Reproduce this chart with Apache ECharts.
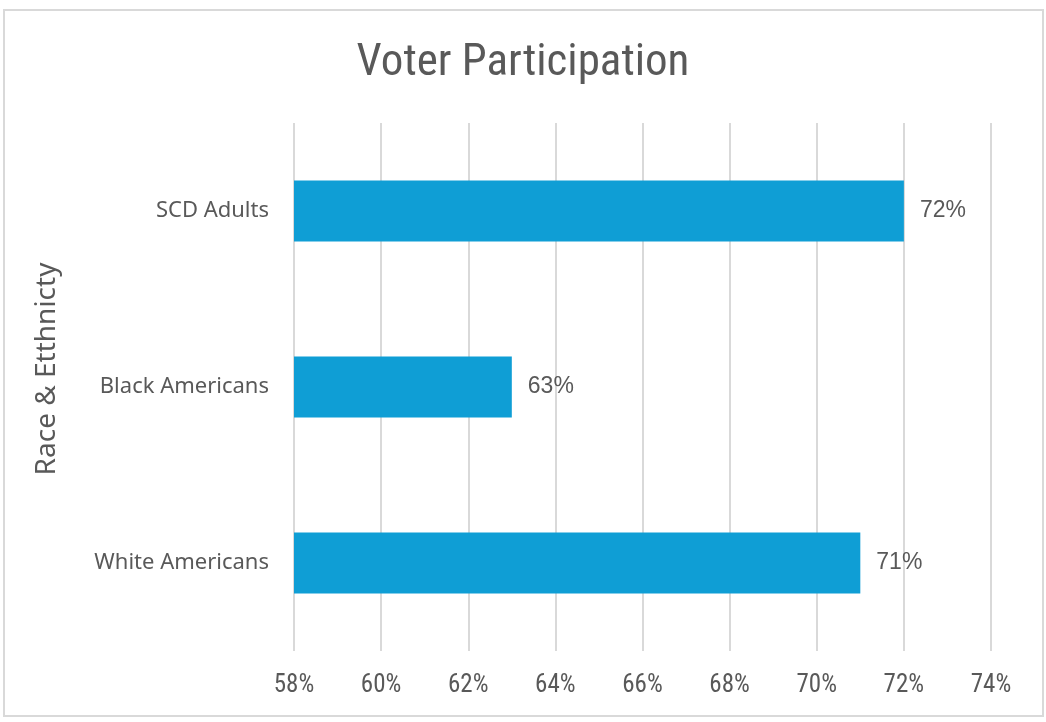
<!DOCTYPE html>
<html>
<head>
<meta charset="utf-8">
<title>Voter Participation</title>
<script src="https://cdn.jsdelivr.net/npm/echarts@6/dist/echarts.min.js"></script>
<style>
  html, body { margin: 0; padding: 0; background: #fff; }
  #chart { width: 1046px; height: 722px; }
</style>
</head>
<body>
<div id="chart"></div>
<script>
// data
var categories = ['White Americans', 'Black Americans', 'SCD Adults'];
var participation = [71, 63, 72];
var xMin = 58, xMax = 74, xStep = 2;

var textColor = '#595959';
var narrowFont = '"Roboto Condensed", "Liberation Sans Narrow", sans-serif';
var myChart = echarts.init(document.getElementById('chart'));
var option = {
  animation: false,
  title: {
    text: 'Voter Participation',
    left: 'center',
    top: 36,
    textStyle: {
      fontFamily: narrowFont,
      fontWeight: 'normal',
      fontSize: 45,
      color: textColor
    }
  },
  graphic: [{
    type: 'rect',
    shape: { x: 4, y: 10, width: 1039, height: 706 },
    style: { fill: 'none', stroke: '#d9d9d9', lineWidth: 2 },
    silent: true
  }],
  grid: {
    left: 294,
    right: 55,
    top: 123,
    bottom: 71
  },
  xAxis: {
    type: 'value',
    min: xMin,
    max: xMax,
    interval: xStep,
    axisLine: { show: false },
    axisTick: { show: false },
    axisLabel: {
      formatter: '{value}%',
      margin: 22,
      fontFamily: narrowFont,
      fontSize: 25,
      color: textColor
    },
    splitLine: {
      show: true,
      lineStyle: { color: '#d9d9d9', width: 2 }
    }
  },
  yAxis: {
    type: 'category',
    data: categories,
    name: 'Race & Etthnicty',
    nameLocation: 'middle',
    nameRotate: 90,
    nameGap: 233,
    nameTextStyle: {
      fontFamily: '"Noto Sans", sans-serif',
      fontSize: 28,
      color: textColor,
      padding: [0, 0, 0, 36]
    },
    axisLine: { show: false },
    axisTick: { show: false },
    axisLabel: {
      margin: 25,
      fontFamily: '"Noto Sans", sans-serif',
      fontSize: 22,
      color: textColor
    }
  },
  series: [{
    type: 'bar',
    data: participation,
    barWidth: 61,
    itemStyle: { color: '#0f9ed5' },
    label: {
      show: true,
      position: 'right',
      distance: 16,
      formatter: '{c}%',
      fontFamily: '"Liberation Sans", sans-serif',
      fontSize: 23,
      color: textColor
    }
  }]
};
myChart.setOption(option, true);
window.addEventListener('resize', function () {
  myChart.resize();
});
</script>
</body>
</html>
